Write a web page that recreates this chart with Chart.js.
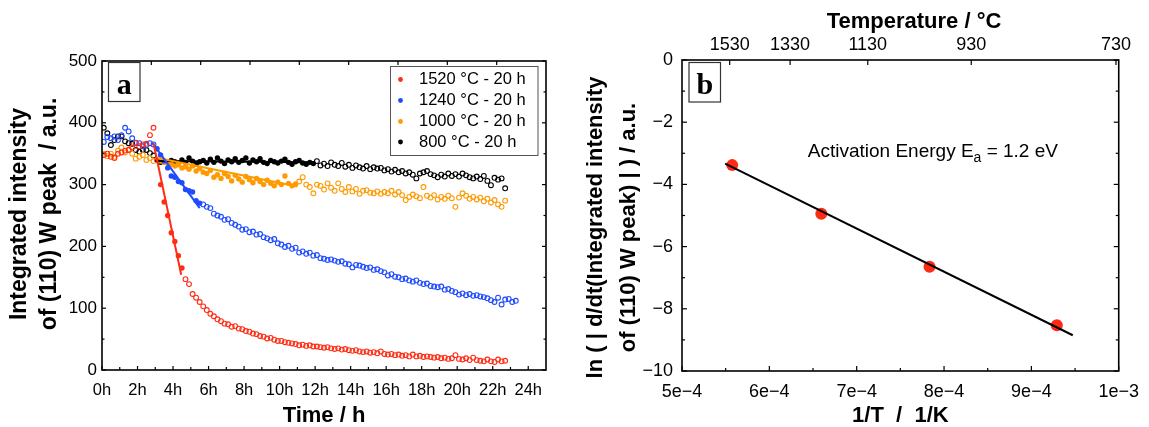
<!DOCTYPE html>
<html>
<head>
<meta charset="utf-8">
<script src="https://cdn.jsdelivr.net/npm/chart.js@4.4.1/dist/chart.umd.min.js"></script>
<style>
html, body { margin: 0; padding: 0; background: #fff; }
#wrap { position: relative; width: 1149px; height: 427px; }
.panel { position: absolute; top: 0; height: 427px; }
</style>
</head>
<body>
<div id="wrap">
  <div class="panel" style="left:0;width:575px"><canvas id="chartA"></canvas></div>
  <div class="panel" style="left:575px;width:574px"><canvas id="chartB"></canvas></div>
</div>
<script>
var FONT = '"Liberation Sans", Arial, Helvetica, sans-serif';
var SERIF = '"Liberation Serif", "Times New Roman", serif';
var STEP_H = 0.2; // sampling interval of the scans, hours

// ---- panel a: intensity vs time ----
var seriesNames = ['1520 °C - 20 h', '1240 °C - 20 h', '1000 °C - 20 h', '800 °C - 20 h'];
var seriesColors = ['#ff2d14', '#1f4bff', '#ff9a00', '#000000'];

var timeTicks = [0, 2, 4, 6, 8, 10, 12, 14, 16, 18, 20, 22, 24];
var timeTickLabels = ['0h', '2h', '4h', '6h', '8h', '10h', '12h', '14h', '16h', '18h', '20h', '22h', '24h'];
var timeMinorTicks = [1, 3, 5, 7, 9, 11, 13, 15, 17, 19, 21, 23];
var topSecondTicks = [2.778, 5.556, 8.333, 11.111, 13.889, 16.667, 19.444, 22.222]; // every 1e4 s
var intensityTicks = [0, 100, 200, 300, 400, 500];
var intensityMinorTicks = [50, 150, 250, 350, 450];

// 1520 °C
var red_early_t0 = 0.1;
var red_early = [348, 350, 345, 343, 350, 352, 355, 356, 360, 367, 362, 365, 366, 380, 392];
var red_fit_t0 = 3.1;
var red_fit = [340, 300, 272, 250, 222, 208, 185, 165];
var red_late_t0 = 4.7;
var red_late = [147, 139, 123, 117, 110, 103, 97, 91, 87, 82,
  79, 75, 74, 70, 71, 67, 66, 63, 62, 59,
  58, 55, 54, 51, 52, 49, 47, 47, 45, 44,
  43, 42, 40, 41, 39, 40, 38, 38, 37, 36,
  37, 35, 34, 35, 33, 34, 32, 31, 32, 30,
  29, 30, 28, 29, 27, 30, 26, 25, 26, 24,
  25, 23, 24, 22, 25, 22, 23, 21, 22, 21,
  20, 21, 19, 20, 18, 19, 24, 18, 17, 19,
  16, 20, 16, 15, 14, 17, 14, 13, 17, 14, 15];
var red_line_t = [2.9, 4.46];
var red_line_v = [367, 154];

// 1240 °C
var blue_early_t0 = 0.1;
var blue_early = [369, 377, 375, 378, 372, 380, 392, 386, 375, 368, 367, 362, 364, 367, 365];
var blue_fit_t0 = 3.1;
var blue_fit = [358, 348, 338, 327, 314, 312, 305, 303, 292, 290, 288, 274, 270];
var blue_late_t0 = 5.7;
var blue_late = [268, 264, 262, 253, 250, 248, 243, 244, 238, 235,
  232, 227, 228, 223, 224, 219, 220, 215, 213, 210,
  212, 205, 203, 199, 201, 196, 198, 190, 192, 188,
  190, 185, 186, 181, 180, 178, 179, 177, 175, 176,
  172, 171, 166, 170, 169, 167, 165, 166, 162, 163,
  160, 158, 153, 155, 151, 150, 147, 148, 145, 143,
  145, 141, 139, 140, 136, 135, 134, 135, 130, 131,
  128, 126, 122, 124, 121, 123, 120, 121, 119, 118,
  116, 113, 110, 117, 106, 114, 115, 110, 112];
var blue_line_t = [2.85, 5.5];
var blue_line_v = [367, 262];

// 1000 °C
var orange_early_t0 = 0.1;
var orange_early = [350, 346, 350, 345, 355, 360, 352, 357, 350, 342, 345, 348, 340, 343, 338];
var orange_fit_t0 = 3.1;
var orange_fit = [340, 338, 336, 335, 333, 330, 332, 327, 329, 325,
  330, 322, 326, 320, 318, 323, 312, 316, 310, 318,
  313, 306, 315, 309, 304, 313, 308, 303, 310, 305,
  300, 307, 302, 298, 304, 300, 314, 302, 298, 301];
var orange_late_t0 = 11.1;
var orange_late = [305, 312, 300, 296, 286, 300, 298, 292, 302, 295,
  290, 302, 293, 288, 296, 289, 293, 285, 290, 291,
  287, 286, 289, 285, 288, 286, 290, 284, 288, 283,
  275, 280, 284, 281, 278, 296, 282, 279, 283, 276,
  280, 277, 282, 278, 264, 279, 286, 282, 277, 280,
  276, 279, 273, 277, 271, 275, 268, 264, 274];
var orange_line_t = [3.0, 11.0];
var orange_line_v = [344, 297];

// 800 °C
var black_early_t0 = 0.1;
var black_early = [392, 383, 364, 372, 378, 378, 370, 367, 366, 356, 353, 356, 356, 351, 347];
var black_fit_t0 = 3.1;
var black_fit = [340, 336, 338, 335, 339, 337, 334, 340, 336, 343,
  338, 333, 337, 339, 335, 341, 336, 343, 338, 334,
  340, 337, 342, 336, 339, 343, 335, 340, 337, 342,
  336, 334, 339, 337, 335, 338, 341, 336, 333, 337,
  339, 335, 333, 336, 334];
var black_late_t0 = 12.1;
var black_late = [338, 331, 334, 330, 336, 332, 330, 335, 329, 332,
  327, 331, 328, 326, 330, 325, 328, 326, 327, 323,
  325, 321, 324, 320, 322, 318, 320, 316, 310, 318,
  320, 322, 317, 315, 312, 316, 313, 318, 314, 317,
  313, 318, 315, 312, 310, 313, 309, 314, 306, 299,
  311, 308, 310, 294];
var black_line_t = [3.0, 12.0];
var black_line_v = [338, 336];

// ---- panel b: Arrhenius plot ----
var invT_values = [5.575e-4, 6.595e-4, 7.834e-4, 9.291e-4];
var lnRate_values = [-3.38, -4.94, -6.65, -8.53];
var fit_invT = [5.494e-4, 9.474e-4];
var fit_lnRate = [-3.33, -8.85];
var invTTicks = [5e-4, 6e-4, 7e-4, 8e-4, 9e-4, 1e-3];
var invTTickLabels = ['5e\u22124', '6e\u22124', '7e\u22124', '8e\u22124', '9e\u22124', '1e\u22123'];
var invTMinorTicks = [5.5e-4, 6.5e-4, 7.5e-4, 8.5e-4, 9.5e-4];
var tempTicks = [1530, 1330, 1130, 930, 730];
var lnTicks = [-10, -8, -6, -4, -2, 0];
var lnTickLabels = ['\u221210', '\u22128', '\u22126', '\u22124', '\u22122', '0'];
var lnMinorTicks = [-9, -7, -5, -3, -1];

function to_points(t0, values) {
  var pts = [];
  for (var i = 0; i < values.length; i++) {
    pts.push({x: Math.round((t0 + i * STEP_H) * 100) / 100, y: values[i]});
  }
  return pts;
}

function pair_points(xs, ys) {
  var pts = [];
  for (var i = 0; i < xs.length; i++) pts.push({x: xs[i], y: ys[i]});
  return pts;
}

function open_set(pts, color) {
  return {data: pts, pointRadius: 2.4, pointBorderWidth: 1.1, borderColor: color,
    pointBorderColor: color, pointBackgroundColor: 'rgba(255,255,255,0)', showLine: false};
}

function filled_set(pts, color) {
  return {data: pts, pointRadius: 2.7, pointBorderWidth: 0, borderColor: color,
    pointBorderColor: color, pointBackgroundColor: color, showLine: false};
}

function fit_set(pts, color) {
  return {data: pts, showLine: true, pointRadius: 0, borderColor: color, borderWidth: 2};
}

// inward tick marks on every side plus the closed frame
var frame_ticks = {
  id: 'frameTicks',
  afterDatasetsDraw: function (chart, args, opts) {
    var ctx = chart.ctx, a = chart.chartArea;
    ctx.save();
    ctx.strokeStyle = '#000';
    ctx.lineWidth = 1.2;
    opts.marks.forEach(function (m) {
      var scale = chart.scales[m.scale];
      m.values.forEach(function (v) {
        var p = scale.getPixelForValue(v);
        ctx.beginPath();
        if (m.side === 'bottom') { ctx.moveTo(p, a.bottom); ctx.lineTo(p, a.bottom - m.len); }
        else if (m.side === 'top') { ctx.moveTo(p, a.top); ctx.lineTo(p, a.top + m.len); }
        else if (m.side === 'left') { ctx.moveTo(a.left, p); ctx.lineTo(a.left + m.len, p); }
        else { ctx.moveTo(a.right, p); ctx.lineTo(a.right - m.len, p); }
        ctx.stroke();
      });
    });
    ctx.lineWidth = 1.6;
    ctx.strokeRect(a.left, a.top, a.right - a.left, a.bottom - a.top);
    ctx.restore();
  }
};

// panel letters, rotated y titles, legend box, annotation
var overlay_text = {
  id: 'overlayText',
  afterDraw: function (chart, args, opts) {
    var ctx = chart.ctx;
    ctx.save();
    ctx.fillStyle = '#000';
    if (opts.box) {
      var b = opts.box;
      ctx.strokeStyle = '#333';
      ctx.lineWidth = 1.2;
      ctx.strokeRect(b.x, b.y, b.w, b.h);
      ctx.font = 'bold 30px ' + SERIF;
      ctx.textAlign = 'center';
      ctx.textBaseline = 'alphabetic';
      ctx.fillText(b.text, b.x + b.w / 2, b.base);
    }
    if (opts.yTitle) {
      var t = opts.yTitle;
      ctx.save();
      ctx.translate(t.x, t.y);
      ctx.rotate(-Math.PI / 2);
      ctx.font = t.font;
      ctx.textAlign = 'center';
      ctx.textBaseline = 'middle';
      t.lines.forEach(function (line, i) { ctx.fillText(line, 0, i * t.gap); });
      ctx.restore();
    }
    if (opts.topTitle) {
      ctx.font = 'bold 22px ' + FONT;
      ctx.textAlign = 'center';
      ctx.textBaseline = 'middle';
      ctx.fillText(opts.topTitle.text, opts.topTitle.x, opts.topTitle.y);
    }
    if (opts.legend) {
      var L = opts.legend;
      ctx.fillStyle = '#fff';
      ctx.fillRect(L.x, L.y, L.w, L.h);
      ctx.strokeStyle = '#555';
      ctx.lineWidth = 1;
      ctx.strokeRect(L.x, L.y, L.w, L.h);
      ctx.font = '16.5px ' + FONT;
      ctx.textAlign = 'left';
      ctx.textBaseline = 'middle';
      seriesNames.forEach(function (name, i) {
        var yy = L.rowY[i];
        ctx.fillStyle = seriesColors[i];
        ctx.beginPath();
        ctx.arc(L.dotX, yy, 2.4, 0, Math.PI * 2);
        ctx.fill();
        ctx.fillStyle = '#000';
        ctx.fillText(name, L.textX, yy);
      });
    }
    if (opts.note) {
      var n = opts.note;
      var x = chart.scales.x.getPixelForValue(n.x);
      var y = chart.scales.y.getPixelForValue(n.y);
      ctx.textAlign = 'left';
      ctx.textBaseline = 'alphabetic';
      ctx.font = '19px ' + FONT;
      ctx.fillText(n.pre, x, y);
      x += ctx.measureText(n.pre).width;
      ctx.font = '14px ' + FONT;
      ctx.fillText(n.sub, x, y + 5);
      x += ctx.measureText(n.sub).width;
      ctx.font = '19px ' + FONT;
      ctx.fillText(n.post, x, y);
    }
    ctx.restore();
  }
};

var tickFontA = {family: FONT, size: 16.5};

var datasetsA = [
  fit_set(pair_points(red_line_t, red_line_v), seriesColors[0]),
  fit_set(pair_points(blue_line_t, blue_line_v), seriesColors[1]),
  fit_set(pair_points(orange_line_t, orange_line_v), seriesColors[2]),
  fit_set(pair_points(black_line_t, black_line_v), seriesColors[3]),
  filled_set(to_points(red_fit_t0, red_fit), seriesColors[0]),
  open_set(to_points(red_early_t0, red_early), seriesColors[0]),
  open_set(to_points(red_late_t0, red_late), seriesColors[0]),
  filled_set(to_points(blue_fit_t0, blue_fit), seriesColors[1]),
  open_set(to_points(blue_early_t0, blue_early), seriesColors[1]),
  open_set(to_points(blue_late_t0, blue_late), seriesColors[1]),
  filled_set(to_points(orange_fit_t0, orange_fit), seriesColors[2]),
  open_set(to_points(orange_early_t0, orange_early), seriesColors[2]),
  open_set(to_points(orange_late_t0, orange_late), seriesColors[2]),
  filled_set(to_points(black_fit_t0, black_fit), seriesColors[3]),
  open_set(to_points(black_early_t0, black_early), seriesColors[3]),
  open_set(to_points(black_late_t0, black_late), seriesColors[3])
];

new Chart(document.getElementById('chartA'), {
  type: 'scatter',
  data: {datasets: datasetsA},
  plugins: [frame_ticks, overlay_text],
  options: {
    responsive: true,
    maintainAspectRatio: false,
    animation: false,
    devicePixelRatio: 1,
    layout: {autoPadding: false, padding: {left: 0, right: 29, top: 61, bottom: 0}},
    scales: {
      x: {
        type: 'linear', min: 0, max: 25,
        afterBuildTicks: function (s) { s.ticks = timeTicks.map(function (v) { return {value: v}; }); },
        afterFit: function (s) { s.height = 57; },
        ticks: {
          callback: function (v, i) { return timeTickLabels[i]; },
          font: tickFontA, color: '#000', padding: 11, autoSkip: false, maxRotation: 0, minRotation: 0
        },
        grid: {display: false, drawTicks: false},
        border: {display: false},
        title: {display: true, text: 'Time / h', color: '#000',
          font: {family: FONT, size: 22, weight: 'bold', lineHeight: 1}, padding: {top: 0, bottom: 0}}
      },
      y: {
        type: 'linear', min: 0, max: 500,
        afterBuildTicks: function (s) { s.ticks = intensityTicks.map(function (v) { return {value: v}; }); },
        afterFit: function (s) { s.width = 102; },
        ticks: {font: {family: FONT, size: 17}, color: '#000', padding: 5},
        grid: {display: false, drawTicks: false},
        border: {display: false}
      }
    },
    plugins: {
      legend: {display: false},
      tooltip: {enabled: false},
      frameTicks: {
        marks: [
          {scale: 'x', side: 'bottom', values: timeTicks, len: 4},
          {scale: 'x', side: 'bottom', values: timeMinorTicks, len: 3},
          {scale: 'x', side: 'top', values: topSecondTicks, len: 4},
          {scale: 'y', side: 'left', values: intensityTicks, len: 4},
          {scale: 'y', side: 'left', values: intensityMinorTicks, len: 2.5},
          {scale: 'y', side: 'right', values: intensityTicks, len: 4},
          {scale: 'y', side: 'right', values: intensityMinorTicks, len: 2.5}
        ]
      },
      overlayText: {
        box: {x: 108.5, y: 62.5, w: 31.5, h: 39, text: 'a', base: 93.5},
        yTitle: {lines: ['Integrated intensity', 'of (110) W peak  / a.u.'], x: 19.5, y: 214, gap: 30.5,
          font: 'bold 23px ' + FONT},
        legend: {x: 390.5, y: 66.5, w: 147.5, h: 89, dotX: 400.5, textX: 419, rowY: [79.5, 100.5, 121.5, 142]}
      }
    }
  }
});

var tickFontB = {family: FONT, size: 18};

new Chart(document.getElementById('chartB'), {
  type: 'scatter',
  data: {
    datasets: [
      {data: pair_points(fit_invT, fit_lnRate), showLine: true, pointRadius: 0, borderColor: '#000', borderWidth: 2},
      {data: pair_points(invT_values, lnRate_values), showLine: false, pointRadius: 6, pointBorderWidth: 0,
        pointBackgroundColor: '#ff2a12', pointBorderColor: '#ff2a12'}
    ]
  },
  plugins: [frame_ticks, overlay_text],
  options: {
    responsive: true,
    maintainAspectRatio: false,
    animation: false,
    devicePixelRatio: 1,
    layout: {autoPadding: false, padding: {left: 0, right: 19.5, top: 0, bottom: 0}},
    scales: {
      x: {
        type: 'linear', min: 5e-4, max: 1e-3,
        afterBuildTicks: function (s) { s.ticks = invTTicks.map(function (v) { return {value: v}; }); },
        afterFit: function (s) { s.height = 56; },
        ticks: {
          callback: function (v, i) { return invTTickLabels[i]; },
          font: tickFontB, color: '#000', padding: 10, autoSkip: false, maxRotation: 0, minRotation: 0
        },
        grid: {display: false, drawTicks: false},
        border: {display: false},
        title: {display: true, text: '1/T  /  1/K', color: '#000',
          font: {family: FONT, size: 22, weight: 'bold', lineHeight: 1}, padding: {top: 0, bottom: 0}}
      },
      xTop: {
        type: 'linear', axis: 'x', position: 'top', min: 5e-4, max: 1e-3,
        afterBuildTicks: function (s) {
          s.ticks = tempTicks.map(function (c) { return {value: 1 / (c + 273.15)}; });
        },
        afterFit: function (s) { s.height = 60; },
        ticks: {
          callback: function (v, i) { return String(tempTicks[i]); },
          font: tickFontB, color: '#000', padding: 4, autoSkip: false, maxRotation: 0, minRotation: 0
        },
        grid: {display: false, drawTicks: false},
        border: {display: false}
      },
      y: {
        type: 'linear', min: -10, max: 0,
        afterBuildTicks: function (s) { s.ticks = lnTicks.map(function (v) { return {value: v}; }); },
        afterFit: function (s) { s.width = 107; },
        ticks: {
          callback: function (v, i) { return lnTickLabels[i]; },
          font: tickFontB, color: '#000', padding: 9
        },
        grid: {display: false, drawTicks: false},
        border: {display: false}
      }
    },
    plugins: {
      legend: {display: false},
      tooltip: {enabled: false},
      frameTicks: {
        marks: [
          {scale: 'x', side: 'bottom', values: invTTicks, len: 5},
          {scale: 'x', side: 'bottom', values: invTMinorTicks, len: 3},
          {scale: 'xTop', side: 'top', values: tempTicks.map(function (c) { return 1 / (c + 273.15); }), len: 5},
          {scale: 'y', side: 'left', values: lnTicks, len: 5},
          {scale: 'y', side: 'left', values: lnMinorTicks, len: 3},
          {scale: 'y', side: 'right', values: lnTicks, len: 5},
          {scale: 'y', side: 'right', values: lnMinorTicks, len: 3}
        ]
      },
      overlayText: {
        box: {x: 114, y: 62.5, w: 31.5, h: 39.5, text: 'b', base: 93.5},
        yTitle: {lines: ['ln ( | d/dt(Integrated intensity', 'of (110) W peak) | ) / a.u.'], x: 21, y: 227.5, gap: 33,
          font: 'bold 22px ' + FONT},
        topTitle: {text: 'Temperature / \u00b0C', x: 339, y: 21.7},
        note: {x: 6.44e-4, y: -3.11, pre: 'Activation Energy E', sub: 'a', post: ' = 1.2 eV'}
      }
    }
  }
});
</script>
</body>
</html>
